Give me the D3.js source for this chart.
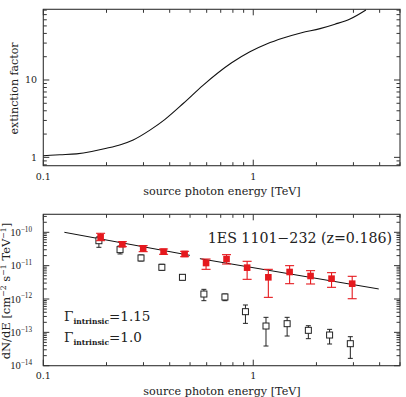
<!DOCTYPE html>
<html><head><meta charset="utf-8">
<script src="https://cdn.jsdelivr.net/npm/d3@7"></script>
<style>
html,body{margin:0;padding:0;background:#fff;}
svg text{font-family:"DejaVu Serif",serif;fill:#222;}
</style></head>
<body><svg id="c" width="406" height="397"></svg>
<script>
// ---- data ----
const curveEnergy = [0.1, 0.12, 0.144, 0.17, 0.2, 0.235, 0.268, 0.322, 0.38, 0.465, 0.578, 0.789, 0.964, 1.158, 1.39, 1.70, 2.08, 2.45, 2.89, 3.44];
const extinction  = [1.05, 1.08, 1.11, 1.19, 1.31, 1.47, 1.68, 2.25, 3.10, 5.0, 8.6, 16.7, 23.2, 29.2, 34.9, 40.9, 46.1, 52.6, 61.5, 80.5];

const intrinsicE  = [0.1875, 0.238, 0.299, 0.374, 0.471, 0.596, 0.746, 0.935, 1.18, 1.49, 1.875, 2.36, 2.96];
const intrinsicF  = [7.08e-11, 4.37e-11, 3.31e-11, 2.63e-11, 2.24e-11, 1.20e-11, 1.58e-11, 8.71e-12, 4.47e-12, 6.46e-12, 4.90e-12, 4.07e-12, 2.88e-12];
const intrinsicHi = [9.33e-11, 5.25e-11, 3.98e-11, 3.16e-11, 2.69e-11, 1.58e-11, 2.14e-11, 1.35e-11, 7.76e-12, 1.0e-11, 7.08e-12, 6.17e-12, 4.79e-12];
const intrinsicLo = [5.62e-11, 3.72e-11, 2.63e-11, 2.19e-11, 1.86e-11, 7.76e-12, 1.12e-11, 3.89e-12, 1.12e-12, 2.88e-12, 2.82e-12, 2.24e-12, 1.02e-12];

const observedE  = [0.184, 0.232, 0.292, 0.367, 0.46, 0.582, 0.733, 0.918, 1.15, 1.45, 1.83, 2.31, 2.90];
const observedF  = [5.6e-11, 3.02e-11, 1.70e-11, 8.91e-12, 4.47e-12, 1.41e-12, 1.15e-12, 4.17e-13, 1.55e-13, 1.82e-13, 1.15e-13, 8.32e-14, 4.57e-14];
const observedHi = [7.41e-11, 3.89e-11, 2.09e-11, 1.10e-11, 5.37e-12, 1.95e-12, 1.41e-12, 6.61e-13, 2.82e-13, 2.82e-13, 1.58e-13, 1.23e-13, 7.41e-14];
const observedLo = [3.55e-11, 2.24e-11, 1.38e-11, 7.24e-12, 3.72e-12, 8.91e-13, 8.91e-13, 1.86e-13, 3.89e-14, 7.76e-14, 6.46e-14, 4.47e-14, 1.66e-14];

const fitLowE = [0.126, 0.499], fitLowF = [1.0e-10, 2.04e-11];
const fitHighE = [0.557, 3.96], fitHighF = [1.62e-11, 2.0e-12];

const xTickLabels = [0.1, 1];
const topYTickLabels = [1, 10];
const botYTickExps = [-14, -13, -12, -11, -10];

// ---- layout ----
const svg = d3.select("#c");
const L = 43.3, R = 400;
const x = d3.scaleLog().domain([0.1, 5]).range([L, R]);
const yTop = d3.scaleLog().domain([0.78, 82]).range([165.7, 9.3]);
const yBot = d3.scaleLog().domain([1e-14, Math.pow(10, -9.46)]).range([365.7, 214.3]);
const axisColor = "#333";

function minorTicks(domain) {
  const [a, b] = domain, t = [];
  for (let e = Math.floor(Math.log10(a)); e <= Math.ceil(Math.log10(b)); e++) {
    for (let m = 1; m <= 9; m++) {
      const v = m * Math.pow(10, e);
      if (v >= a * 0.9999 && v <= b * 1.0001) t.push({v, major: m === 1});
    }
  }
  return t;
}

function frame(ys, labelDy) {
  const g = svg.append("g");
  const [y0, y1] = ys.range();
  g.append("rect").attr("x", L).attr("y", y1).attr("width", R - L).attr("height", y0 - y1)
    .attr("fill", "none").attr("stroke", axisColor).attr("stroke-width", 1.1);
  minorTicks(x.domain()).forEach(t => {
    const len = t.major ? 6 : 3.5, px = x(t.v);
    g.append("line").attr("x1", px).attr("x2", px).attr("y1", y0).attr("y2", y0 - len).attr("stroke", axisColor);
    g.append("line").attr("x1", px).attr("x2", px).attr("y1", y1).attr("y2", y1 + len).attr("stroke", axisColor);
  });
  minorTicks(ys.domain()).forEach(t => {
    const len = t.major ? 6 : 3.5, py = ys(t.v);
    g.append("line").attr("x1", L).attr("x2", L + len).attr("y1", py).attr("y2", py).attr("stroke", axisColor);
    g.append("line").attr("x1", R).attr("x2", R - len).attr("y1", py).attr("y2", py).attr("stroke", axisColor);
  });
  xTickLabels.forEach(v => {
    g.append("text").attr("x", x(v)).attr("y", y0 + labelDy).attr("text-anchor", "middle")
      .attr("font-size", 9.5).text(v);
  });
  g.append("text").attr("x", 222).attr("y", y0 + 29).attr("text-anchor", "middle")
    .attr("font-size", 11.2).text("source photon energy [TeV]");
  return g;
}

// ---- top panel ----
frame(yTop, 14);
topYTickLabels.forEach(v => {
  svg.append("text").attr("x", 37).attr("y", yTop(v) + 3.4).attr("text-anchor", "end")
    .attr("font-size", 9.5).text(v);
});
svg.append("text").attr("transform", "translate(18,88.5) rotate(-90)").attr("text-anchor", "middle")
  .attr("font-size", 11).text("extinction factor");
const line = d3.line().x(d => x(d[0])).y(d => yTop(d[1])).curve(d3.curveMonotoneX);
svg.append("path").datum(curveEnergy.map((e, i) => [e, extinction[i]]))
  .attr("d", line).attr("fill", "none").attr("stroke", "#111").attr("stroke-width", 1.1);

// ---- bottom panel ----
frame(yBot, 13);
botYTickExps.forEach(e => {
  const t = svg.append("text").attr("x", 32).attr("y", yBot(Math.pow(10, e)) + 3.6).attr("text-anchor", "end")
    .attr("font-size", 10.6).style("font-family", "'Liberation Serif', serif");
  t.append("tspan").text("10");
  t.append("tspan").attr("dy", -4.3).attr("font-size", 7.2).text("\u2212" + (-e));
});
const yl = svg.append("text").attr("transform", "translate(10,291) rotate(-90)").attr("text-anchor", "middle")
  .attr("font-size", 11.5);
yl.append("tspan").text("dN/dE  [cm");
yl.append("tspan").attr("dy", -4).attr("font-size", 7.8).text("\u22122");
yl.append("tspan").attr("dy", 4).text(" s");
yl.append("tspan").attr("dy", -4).attr("font-size", 7.8).text("\u22121");
yl.append("tspan").attr("dy", 4).text(" TeV");
yl.append("tspan").attr("dy", -4).attr("font-size", 7.8).text("\u22121");
yl.append("tspan").attr("dy", 4).text("]");

const gb = svg.append("g");
const fline = d3.line().x(d => x(d[0])).y(d => yBot(d[1]));
[[fitLowE, fitLowF], [fitHighE, fitHighF]].forEach(([es, fs]) => {
  gb.append("path").datum(es.map((e, i) => [e, fs[i]])).attr("d", fline)
    .attr("fill", "none").attr("stroke", "#111").attr("stroke-width", 1);
});

// observed (open black squares)
observedE.forEach((e, i) => {
  const px = x(e);
  gb.append("line").attr("x1", px).attr("x2", px).attr("y1", yBot(observedHi[i])).attr("y2", yBot(observedLo[i]))
    .attr("stroke", "#222").attr("stroke-width", 1);
  [observedHi[i], observedLo[i]].forEach(v => gb.append("line").attr("x1", px - 2.5).attr("x2", px + 2.5)
    .attr("y1", yBot(v)).attr("y2", yBot(v)).attr("stroke", "#222").attr("stroke-width", 1));
  gb.append("rect").attr("x", px - 3).attr("y", yBot(observedF[i]) - 3).attr("width", 6).attr("height", 6)
    .attr("fill", "#fff").attr("stroke", "#222").attr("stroke-width", 1);
});

// intrinsic (filled red squares)
const red = "#e5191e";
intrinsicE.forEach((e, i) => {
  const px = x(e);
  gb.append("line").attr("x1", px).attr("x2", px).attr("y1", yBot(intrinsicHi[i])).attr("y2", yBot(intrinsicLo[i]))
    .attr("stroke", red).attr("stroke-width", 1.1);
  [intrinsicHi[i], intrinsicLo[i]].forEach(v => gb.append("line").attr("x1", px - 4.5).attr("x2", px + 4.5)
    .attr("y1", yBot(v)).attr("y2", yBot(v)).attr("stroke", red).attr("stroke-width", 1.1));
  gb.append("rect").attr("x", px - 3.3).attr("y", yBot(intrinsicF[i]) - 3.3).attr("width", 6.6).attr("height", 6.6)
    .attr("fill", red);
});

// annotations
svg.append("text").attr("x", 392).attr("y", 243).attr("text-anchor", "end").attr("font-size", 14.2)
  .text("1ES 1101\u2212232 (z=0.186)");
function gamma(y, val) {
  const t = svg.append("text").attr("x", 64).attr("y", y).attr("font-size", 13.5);
  t.append("tspan").text("\u0393");
  t.append("tspan").attr("dy", 3).attr("font-size", 7.5).attr("font-weight", "bold").text("intrinsic");
  t.append("tspan").attr("dy", -3).text("=" + val);
}
gamma(321, "1.15");
gamma(342, "1.0");
</script></body></html>
